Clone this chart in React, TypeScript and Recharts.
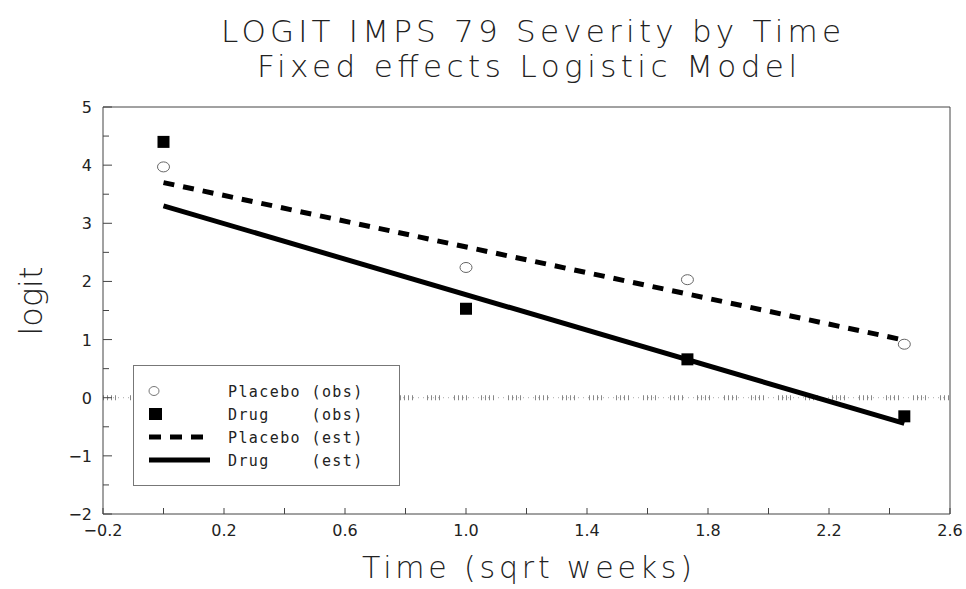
import React from "react";
import {
    ComposedChart,
    Line,
    Scatter,
    XAxis,
    YAxis,
    ReferenceLine,
    Legend,
} from "recharts";

// observed logits by time (sqrt weeks)
const placeboObs = [
    { x: 0, y: 3.97 },
    { x: 1.0, y: 2.24 },
    { x: 1.732, y: 2.03 },
    { x: 2.449, y: 0.92 },
];
const drugObs = [
    { x: 0, y: 4.4 },
    { x: 1.0, y: 1.53 },
    { x: 1.732, y: 0.66 },
    { x: 2.449, y: -0.32 },
];

// fitted lines
const placeboEst = [
    { x: 0, y: 3.7 },
    { x: 2.449, y: 0.99 },
];
const drugEst = [
    { x: 0, y: 3.3 },
    { x: 2.449, y: -0.44 },
];

const xTicks = [-0.2, 0, 0.2, 0.4, 0.6, 0.8, 1.0, 1.2, 1.4, 1.6, 1.8, 2.0, 2.2, 2.4, 2.6];
const xLabels = ["-0.2", "0.2", "0.6", "1.0", "1.4", "1.8", "2.2", "2.6"];
const yTicks = [-2, -1.5, -1, -0.5, 0, 0.5, 1, 1.5, 2, 2.5, 3, 3.5, 4, 4.5, 5];

const AXIS = "#444";
const FONT = "'DejaVu Sans', sans-serif";

const BottomTick = (props: any) => {
    const { x, y, payload } = props;
    const label = payload.value.toFixed(1);
    const show = xLabels.includes(label);
    return (
        <g>
            <line x1={x} y1={y} x2={x} y2={y - 6} stroke={AXIS} />
            {show && (
                <text x={x} y={y + 22} textAnchor="middle" fontSize={16} fontFamily={FONT} fill="#222">
                    {label.replace("-", "\u2212")}
                </text>
            )}
        </g>
    );
};

const TopTick = (props: any) => {
    const { x, y } = props;
    return <line x1={x} y1={y} x2={x} y2={y + 5} stroke={AXIS} />;
};

const LeftTick = (props: any) => {
    const { x, y, payload } = props;
    const v = payload.value;
    const major = Number.isInteger(v);
    return (
        <g>
            <line x1={x} y1={y} x2={x + (major ? 9 : 6)} y2={y} stroke={AXIS} />
            {major && (
                <text x={x - 11} y={y + 6} textAnchor="end" fontSize={16} fontFamily={FONT} fill="#222">
                    {String(v).replace("-", "\u2212")}
                </text>
            )}
        </g>
    );
};

const RightTick = (props: any) => {
    const { x, y, payload } = props;
    const major = Number.isInteger(payload.value);
    return <line x1={x} y1={y} x2={x - (major ? 9 : 6)} y2={y} stroke={AXIS} />;
};

const OpenCircle = (props: any) => (
    <ellipse cx={props.cx} cy={props.cy} rx={6} ry={5} fill="none" stroke="#666" strokeWidth={1} />
);

const FilledSquare = (props: any) => (
    <rect x={props.cx - 6} y={props.cy - 6} width={12} height={12} fill="#000" />
);

const legendRows = [
    { label: "Placebo (obs)", kind: "circle" },
    { label: "Drug    (obs)", kind: "square" },
    { label: "Placebo (est)", kind: "dash" },
    { label: "Drug    (est)", kind: "solid" },
];

const LegendBox = () => (
    <div
        style={{
            width: 265,
            height: 105,
            background: "#fff",
            border: "1px solid #777",
            boxSizing: "content-box",
            paddingTop: 14,
            position: "relative",
        }}
    >
        {legendRows.map((r, i) => (
            <div key={i} style={{ height: 23, display: "flex", alignItems: "center" }}>
                <svg width={80} height={23} style={{ marginLeft: 14 }}>
                    {r.kind === "circle" && <ellipse cx={6} cy={11} rx={5} ry={4.5} fill="none" stroke="#777" />}
                    {r.kind === "square" && <rect x={1} y={5} width={13} height={12} fill="#000" />}
                    {r.kind === "dash" && (
                        <line x1={1} y1={11} x2={62} y2={11} stroke="#000" strokeWidth={5} strokeDasharray="12 9" />
                    )}
                    {r.kind === "solid" && <line x1={1} y1={11} x2={62} y2={11} stroke="#000" strokeWidth={5} />}
                </svg>
                <span
                    style={{
                        whiteSpace: "pre",
                        fontFamily: "'DejaVu Sans Mono', monospace",
                        fontSize: 15,
                        letterSpacing: 1.4,
                        color: "#222",
                    }}
                >
                    {r.label}
                </span>
            </div>
        ))}
    </div>
);

export default function App() {
    return (
        <div style={{ position: "absolute", left: 0, top: 0, width: 966, height: 589, background: "#fff" }}>
            <ComposedChart width={966} height={589} margin={{ top: 100, right: 10, bottom: 35, left: 43 }}>
                <XAxis
                    xAxisId={0}
                    dataKey="x"
                    type="number"
                    domain={[-0.2, 2.6]}
                    ticks={xTicks}
                    interval={0}
                    height={40}
                    tickSize={0}
                    tickMargin={0}
                    tickLine={false}
                    tick={<BottomTick />}
                    stroke={AXIS}
                    allowDataOverflow
                />
                <XAxis
                    xAxisId="top"
                    orientation="top"
                    type="number"
                    domain={[-0.2, 2.6]}
                    ticks={xTicks}
                    interval={0}
                    height={7}
                    tickSize={0}
                    tickMargin={0}
                    tickLine={false}
                    tick={<TopTick />}
                    stroke={AXIS}
                />
                <YAxis
                    yAxisId={0}
                    type="number"
                    domain={[-2, 5]}
                    ticks={yTicks}
                    interval={0}
                    width={60}
                    tickSize={0}
                    tickMargin={0}
                    tickLine={false}
                    tick={<LeftTick />}
                    stroke={AXIS}
                    allowDataOverflow
                />
                <YAxis
                    yAxisId="right"
                    orientation="right"
                    type="number"
                    domain={[-2, 5]}
                    ticks={yTicks}
                    interval={0}
                    width={6}
                    tickSize={0}
                    tickMargin={0}
                    tickLine={false}
                    tick={<RightTick />}
                    stroke={AXIS}
                />
                <ReferenceLine y={0} stroke="#aaa" strokeWidth={1} strokeDasharray="1 4" />
                <ReferenceLine y={0} stroke="#888" strokeWidth={5} strokeDasharray="1 3 1 3 1 3 1 14" />
                <Line
                    data={placeboEst}
                    dataKey="y"
                    type="linear"
                    stroke="#000"
                    strokeWidth={5}
                    strokeDasharray="11 9"
                    dot={false}
                    isAnimationActive={false}
                    name="Placebo (est)"
                />
                <Line
                    data={drugEst}
                    dataKey="y"
                    type="linear"
                    stroke="#000"
                    strokeWidth={5}
                    dot={false}
                    isAnimationActive={false}
                    name="Drug (est)"
                />
                <Scatter data={placeboObs} dataKey="y" shape={<OpenCircle />} isAnimationActive={false} name="Placebo (obs)" />
                <Scatter data={drugObs} dataKey="y" shape={<FilledSquare />} isAnimationActive={false} name="Drug (obs)" />
                <Legend
                    layout="vertical"
                    align="center"
                    verticalAlign="middle"
                    content={<LegendBox />}
                    wrapperStyle={{ left: 133, top: 365, width: 267, height: 121 }}
                />
            </ComposedChart>
            <svg
                width={966}
                height={589}
                style={{ position: "absolute", left: 0, top: 0, pointerEvents: "none" }}
            >
                <text x={531} y={42} textAnchor="middle" fontSize={31} fontFamily={FONT} fontWeight={200} fill="#222" textLength={620} lengthAdjust="spacing">
                    LOGIT IMPS 79 Severity by Time
                </text>
                <text x={527} y={77} textAnchor="middle" fontSize={31} fontFamily={FONT} fontWeight={200} fill="#222" textLength={540} lengthAdjust="spacing">
                    Fixed effects Logistic Model
                </text>
                <text x={527} y={578} textAnchor="middle" fontSize={30} fontFamily={FONT} fontWeight={200} fill="#222" textLength={330} lengthAdjust="spacing">
                    Time (sqrt weeks)
                </text>
                <text
                    x={0}
                    y={0}
                    transform="translate(42,301) rotate(-90)"
                    textAnchor="middle"
                    fontSize={32}
                    fontFamily={FONT}
                    fontWeight={200}
                    fill="#222"
                >
                    logit
                </text>
            </svg>
        </div>
    );
}
